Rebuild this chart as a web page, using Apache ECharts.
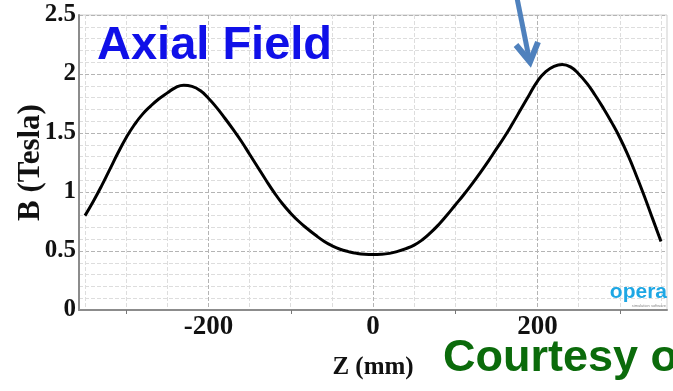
<!DOCTYPE html>
<html>
<head>
<meta charset="utf-8">
<script src="https://cdn.jsdelivr.net/npm/echarts@6/dist/echarts.min.js"></script>
<style>
  html, body { margin: 0; padding: 0; background: #ffffff; }
  #chart { width: 673px; height: 391px; }
</style>
</head>
<body>
<div id="chart"></div>
<script>
// Z positions along the axis (mm)
const zValues = [
  -350, -340, -330, -320, -310, -300, -290, -280, -270, -260,
  -250, -240, -230, -220, -210, -200, -190, -180, -170, -160,
  -150, -140, -130, -120, -110, -100, -90, -80, -70, -60,
  -50, -40, -30, -20, -10, 0, 10, 20, 30, 40,
  50, 60, 70, 80, 90, 100, 110, 120, 130, 140,
  150, 160, 170, 180, 190, 200, 210, 220, 230, 240,
  250, 260, 270, 280, 290, 300, 310, 320, 330, 340, 350
];
// Axial field B (Tesla)
const bValues = [
  0.80, 0.92, 1.05, 1.19, 1.33, 1.46, 1.57, 1.66, 1.73, 1.79,
  1.84, 1.885, 1.905, 1.895, 1.86, 1.795, 1.715, 1.625, 1.53, 1.43,
  1.32, 1.21, 1.10, 0.995, 0.90, 0.82, 0.75, 0.69, 0.635, 0.585,
  0.545, 0.515, 0.495, 0.48, 0.472, 0.47, 0.472, 0.48, 0.497, 0.52,
  0.55, 0.595, 0.655, 0.725, 0.805, 0.89, 0.975, 1.065, 1.16, 1.26,
  1.365, 1.47, 1.585, 1.705, 1.825, 1.94, 2.02, 2.065, 2.08, 2.06,
  2.00, 1.92, 1.82, 1.71, 1.59, 1.46, 1.31, 1.14, 0.96, 0.77, 0.58
];
const xTickLabels = [-200, 0, 200];
const yTickLabels = ['0', '0.5', '1', '1.5', '2', '2.5'];

const seriesData = zValues.map((z, i) => [z, bValues[i]]);

const serif = "'Liberation Serif', 'DejaVu Serif', serif";
const sans = "'Liberation Sans', Arial, sans-serif";
const light = '#dddddd';
const dark = '#b4b4b4';

const chart = echarts.init(document.getElementById('chart'), null, { renderer: 'canvas' });
chart.setOption({
  animation: false,
  backgroundColor: '#ffffff',
  grid: [
    { left: 79, right: 6, top: 15, bottom: 81, show: true, borderColor: '#cfcfcf', borderWidth: 1, backgroundColor: 'transparent' },
    { left: 85, right: 12, top: 15, bottom: 81 },
    { left: 126.25, right: 53.25, top: 15, bottom: 81 }
  ],
  xAxis: [
    {
      gridIndex: 0, type: 'value', min: -357, max: 357,
      axisLine: { show: true, onZero: false, lineStyle: { color: '#8c8c8c', width: 2 } },
      axisTick: { show: false }, axisLabel: { show: false }, splitLine: { show: false }
    },
    {
      gridIndex: 1, type: 'value', min: -350, max: 350, interval: 50,
      axisLine: { show: false }, axisTick: { show: false },
      axisLabel: {
        show: true, margin: 4,
        formatter: v => (xTickLabels.indexOf(v) >= 0 ? String(v) : ''),
        fontFamily: serif, fontWeight: 'bold', fontSize: 27, color: '#111'
      },
      splitLine: { show: true, lineStyle: { type: 'dashed', color: [light, light, light, dark], width: 1 } },
      name: 'Z (mm)', nameLocation: 'middle', nameGap: 45, nameMoveOverlap: false,
      nameTextStyle: { fontFamily: serif, fontWeight: 'bold', fontSize: 25, color: '#111' }
    },
    {
      gridIndex: 2, type: 'value', min: -300, max: 300, interval: 200,
      axisLine: { show: false },
      axisTick: { show: true, length: 4, lineStyle: { color: '#777', width: 1 } },
      axisLabel: { show: false }, splitLine: { show: false }
    }
  ],
  yAxis: [
    {
      gridIndex: 0, type: 'value', min: 0, max: 2.5, interval: 0.5,
      axisLine: { show: true, onZero: false, lineStyle: { color: '#8c8c8c', width: 2 } },
      axisTick: { show: false },
      axisLabel: {
        show: true, margin: 3,
        formatter: v => yTickLabels[Math.round(v / 0.5)] || '',
        fontFamily: serif, fontWeight: 'bold', fontSize: 25, color: '#111'
      },
      splitLine: { show: true, lineStyle: { type: 'dashed', color: dark, width: 1 } },
      minorTick: { show: false, splitNumber: 5 },
      minorSplitLine: { show: true, lineStyle: { type: 'dashed', color: light, width: 1 } },
      name: 'B (Tesla)', nameLocation: 'middle', nameRotate: 90, nameGap: 33, nameMoveOverlap: false,
      nameTextStyle: { fontFamily: serif, fontWeight: 'bold', fontSize: 31, color: '#111' }
    },
    { gridIndex: 1, type: 'value', min: 0, max: 2.5, show: false },
    { gridIndex: 2, type: 'value', min: 0, max: 2.5, show: false }
  ],
  series: [
    {
      type: 'line', xAxisIndex: 1, yAxisIndex: 1,
      data: seriesData, smooth: 0.5, symbol: 'none',
      lineStyle: { color: '#000000', width: 3 }, z: 5
    }
  ],
  graphic: [
    {
      type: 'text', left: 97, top: 23, z: 10,
      style: { text: 'Axial Field', font: "bold 47px " + sans, fill: '#1010e8' }
    },
    {
      type: 'text', left: 443, top: 336, z: 10,
      style: { text: 'Courtesy of', font: "bold 45px " + sans, fill: '#0b6b0b' }
    },
    {
      type: 'text', right: 6, top: 282, z: 10,
      style: { text: 'opera', font: "bold 21px " + sans, fill: '#1ea7e4' }
    },
    {
      type: 'text', right: 7, top: 304, z: 10,
      style: { text: 'simulation software', font: "4px " + sans, fill: '#8a8a8a' }
    },
    {
      type: 'line', z: 10,
      shape: { x1: 517, y1: -2, x2: 529, y2: 58 },
      style: { stroke: '#4f81bd', lineWidth: 5 }
    },
    {
      type: 'polyline', z: 10,
      shape: { points: [[516, 45], [530, 62], [538, 42]] },
      style: { stroke: '#4f81bd', lineWidth: 6, fill: null, lineJoin: 'miter' }
    }
  ]
});
</script>
</body>
</html>
